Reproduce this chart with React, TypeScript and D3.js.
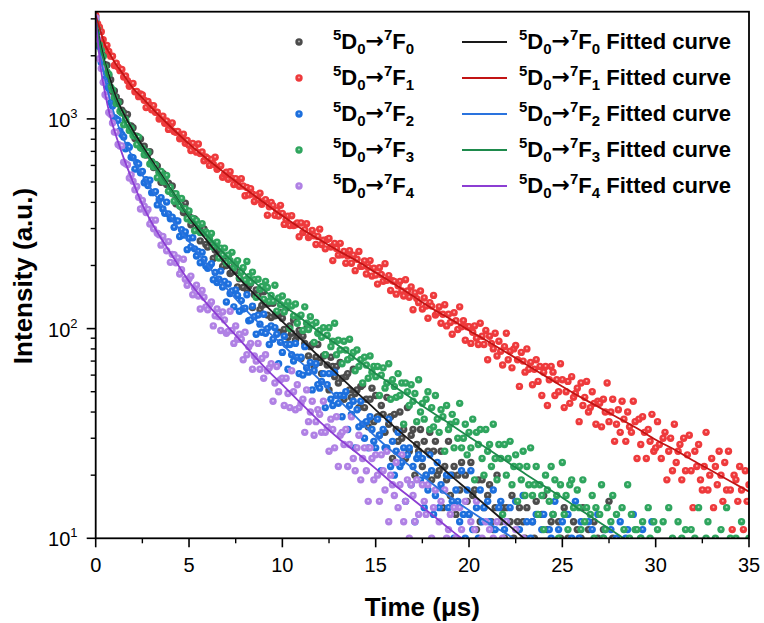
import React from "react";
import * as d3 from "d3";

// ---------------- data ----------------
const T_STEP = 0.1; // µs between recorded points
const X_MAX = 35;
const Y_MIN = 10;
const Y_MAX = 3245;

const COUNTS_F0 = [
  3060, 2659, 2336, 2208, 2009, 1811, 1803, 1617, 1537, 1352,
  1359, 1271, 1193, 1208, 1099, 1070, 986, 1050, 926, 926,
  907, 807, 826, 790, 803, 723, 741, 673, 682, 697,
  622, 586, 607, 597, 558, 499, 550, 517, 486, 493,
  450, 479, 437, 394, 420, 416, 379, 358, 396, 347,
  344, 313, 335, 333, 295, 299, 262, 289, 299, 252,
  245, 278, 253, 216, 237, 221, 240, 228, 198, 211,
  200, 223, 183, 186, 197, 188, 158, 173, 186, 157,
  170, 154, 159, 164, 126, 145, 153, 145, 123, 129,
  150, 131, 116, 132, 113, 132, 115, 116, 96, 119,
  112, 99, 125, 91, 103, 95, 110, 88, 92, 98,
  72, 92, 85, 100, 74, 82, 84, 66, 73, 84,
  69, 61, 74, 75, 67, 51, 73, 66, 59, 66,
  55, 69, 58, 46, 59, 61, 51, 47, 64, 49,
  51, 42, 53, 54, 42, 46, 34, 46, 52, 36,
  48, 38, 31, 43, 39, 32, 47, 35, 38, 24,
  39, 33, 29, 40, 30, 33, 24, 42, 26, 31,
  33, 20, 28, 26, 33, 22, 29, 20, 26, 32,
  19, 26, 29, 20, 21, 26, 14, 22, 19, 29,
  16, 20, 22, 13, 20, 17, 23, 9, 20, 15,
  13, 23, 16, 17, 11, 19, 12, 19, 14, 8,
  16, 18, 12, 11, 14, 20, 9, 12, 14, 10,
  14, 7, 12, 16, 10, 8, 12, 14, 5, 12,
  10, 14, 8, 7, 12, 10, 15, 9, 5, 13,
  16, 8, 11, 7, 12, 13, 9, 3, 12, 10,
  7, 14, 8, 10, 5, 9, 12, 7, 11, 4,
  10, 14, 7, 8, 11, 5, 9, 12, 6, 10,
  7, 4, 11, 9, 6, 15, 8, 10, 5, 9,
  9,
];

const COUNTS_F1 = [
  3122, 2845, 2735, 2606, 2385, 2212, 2243, 2099, 1992, 1989,
  1797, 1843, 1766, 1699, 1720, 1584, 1601, 1520, 1430, 1460,
  1475, 1348, 1352, 1277, 1314, 1300, 1227, 1132, 1210, 1161,
  1106, 1157, 1075, 1076, 999, 1020, 1031, 954, 978, 891,
  929, 957, 871, 863, 872, 804, 823, 845, 765, 789,
  749, 706, 764, 727, 694, 759, 683, 695, 632, 659,
  648, 600, 640, 608, 656, 575, 586, 598, 527, 545,
  557, 515, 560, 522, 486, 519, 491, 477, 519, 479,
  430, 471, 434, 465, 438, 404, 433, 412, 442, 392,
  404, 412, 347, 381, 400, 386, 347, 367, 344, 387,
  354, 314, 331, 344, 310, 345, 310, 313, 319, 274,
  319, 287, 296, 316, 272, 277, 294, 277, 252, 275,
  298, 252, 264, 240, 266, 269, 245, 211, 255, 241,
  224, 255, 225, 233, 205, 222, 235, 205, 224, 189,
  214, 233, 198, 199, 210, 182, 196, 211, 178, 194,
  180, 163, 195, 181, 168, 204, 170, 179, 152, 169,
  168, 146, 160, 168, 151, 143, 171, 151, 141, 158,
  123, 148, 139, 133, 151, 124, 140, 128, 112, 133,
  128, 144, 116, 119, 127, 106, 117, 130, 103, 117,
  107, 94, 119, 109, 99, 127, 102, 109, 88, 102,
  102, 85, 96, 103, 90, 84, 106, 92, 84, 98,
  71, 92, 85, 80, 95, 74, 87, 78, 67, 82,
  95, 71, 78, 65, 80, 83, 71, 53, 77, 70,
  62, 80, 64, 69, 54, 64, 71, 56, 66, 48,
  62, 66, 43, 57, 66, 62, 48, 57, 50, 68,
  57, 42, 50, 56, 44, 59, 47, 49, 52, 36,
  55, 43, 47, 56, 40, 42, 50, 44, 35, 45,
  44, 34, 46, 40, 55, 36, 40, 46, 29, 35,
  41, 32, 45, 37, 29, 40, 34, 32, 45, 36,
  24, 37, 28, 38, 32, 24, 33, 29, 39, 26,
  27, 36, 28, 24, 30, 32, 19, 26, 30, 21,
  35, 23, 26, 28, 19, 30, 21, 25, 31, 21,
  14, 26, 22, 28, 19, 17, 22, 32, 17, 20,
  24, 14, 22, 18, 26, 20, 15, 23, 17, 26,
  17, 11, 20, 19, 15, 22, 17, 11, 21, 15,
  18,
];

const COUNTS_F2 = [
  2967, 2621, 2214, 1859, 1743, 1542, 1434, 1395, 1196, 1152,
  1014, 1000, 985, 877, 842, 820, 720, 747, 733, 657,
  653, 576, 619, 609, 553, 561, 496, 513, 481, 510,
  445, 446, 450, 389, 412, 421, 372, 355, 401, 352,
  334, 340, 304, 326, 326, 275, 296, 279, 289, 238,
  270, 245, 271, 240, 222, 233, 206, 231, 214, 199,
  194, 198, 204, 171, 185, 166, 172, 188, 158, 168,
  134, 163, 147, 151, 127, 153, 144, 121, 136, 124,
  125, 145, 109, 110, 128, 114, 94, 116, 105, 96,
  117, 95, 100, 84, 103, 89, 101, 94, 68, 86,
  77, 92, 84, 64, 84, 75, 70, 85, 73, 61,
  73, 60, 82, 65, 62, 69, 51, 63, 68, 54,
  52, 56, 61, 42, 54, 61, 46, 43, 62, 48,
  44, 48, 38, 48, 50, 33, 43, 39, 45, 27,
  41, 34, 45, 35, 30, 36, 27, 38, 33, 29,
  27, 37, 31, 21, 33, 27, 27, 37, 22, 29,
  20, 26, 32, 22, 23, 27, 15, 25, 27, 18,
  22, 12, 24, 25, 19, 24, 14, 20, 17, 25,
  21, 13, 16, 23, 14, 18, 17, 9, 20, 14,
  20, 15, 10, 17, 15, 12, 21, 13, 10, 17,
  13, 21, 11, 9, 14, 10, 17, 12, 14, 7,
  15, 12, 9, 17, 11, 7, 14, 15, 4, 11,
  12, 9, 14, 9, 7, 15, 9, 11, 7, 16,
  8, 12, 5, 10, 12, 9, 13, 7, 9, 11,
  13, 8, 5, 11, 10, 7, 15, 9, 11, 4,
  12, 9, 7, 13, 8, 10, 6, 15, 7, 10,
  12, 4, 9, 8, 12, 6, 11, 6, 9, 13,
  7, 5, 10, 11, 8, 3, 11, 9, 7, 10,
  6, 12, 8, 4, 10, 11, 7, 6, 13, 7,
  9, 5, 10, 11, 6, 8, 3, 9, 12, 5,
  9,
];

const COUNTS_F3 = [
  2984, 2681, 2258, 2119, 1984, 1775, 1675, 1633, 1418, 1377,
  1270, 1183, 1198, 1087, 1068, 937, 994, 942, 880, 902,
  834, 828, 753, 819, 729, 723, 675, 696, 694, 609,
  625, 592, 603, 524, 557, 562, 504, 503, 537, 452,
  473, 441, 405, 440, 412, 384, 417, 372, 373, 334,
  364, 328, 335, 293, 327, 312, 287, 316, 286, 289,
  283, 267, 284, 245, 255, 258, 217, 242, 224, 242,
  206, 224, 211, 231, 195, 202, 211, 175, 186, 195,
  170, 209, 177, 166, 186, 171, 141, 172, 154, 159,
  138, 168, 157, 135, 144, 135, 161, 121, 140, 130,
  143, 120, 129, 134, 100, 128, 115, 131, 106, 114,
  116, 98, 127, 106, 99, 114, 104, 86, 107, 95,
  98, 91, 101, 75, 93, 101, 82, 87, 106, 75,
  88, 79, 68, 87, 79, 71, 89, 73, 77, 63,
  79, 66, 71, 55, 73, 67, 58, 74, 62, 66,
  59, 66, 48, 60, 65, 52, 55, 68, 46, 57,
  53, 47, 61, 48, 55, 35, 55, 50, 43, 54,
  45, 49, 36, 57, 40, 44, 37, 46, 50, 33,
  42, 34, 48, 37, 32, 41, 38, 26, 43, 33,
  35, 39, 27, 36, 30, 44, 27, 30, 35, 25,
  32, 27, 37, 19, 32, 28, 33, 24, 20, 33,
  26, 28, 22, 35, 24, 19, 28, 24, 13, 28,
  20, 24, 29, 18, 22, 25, 15, 22, 19, 26,
  16, 22, 18, 27, 16, 18, 22, 13, 18, 16,
  11, 20, 17, 15, 22, 13, 19, 16, 10, 18,
  23, 13, 16, 11, 18, 19, 14, 6, 17, 14,
  11, 19, 12, 14, 8, 13, 16, 10, 14, 7,
  13, 18, 10, 11, 14, 8, 12, 16, 8, 13,
  9, 6, 14, 11, 8, 18, 10, 13, 6, 11,
  11, 6, 10, 12, 8, 7, 14, 10, 8, 12,
  8, 11, 4, 9, 12, 7, 9, 14, 5, 10,
  9, 6, 12, 7, 10, 3, 11, 9, 6, 11,
  8, 10, 5, 14, 7, 8, 6, 10, 12, 5,
  9, 7, 10, 3, 9, 11, 6, 8, 14, 5,
  10, 7, 4, 10, 8, 6, 12, 7, 9, 5,
  10,
];

const COUNTS_F4 = [
  3038, 2405, 1936, 1741, 1494, 1304, 1278, 1073, 1051, 956,
  865, 863, 755, 742, 744, 622, 612, 604, 522, 541,
  504, 459, 476, 423, 372, 408, 383, 358, 370, 315,
  329, 299, 329, 285, 280, 250, 275, 259, 235, 260,
  207, 226, 225, 206, 217, 182, 191, 214, 172, 161,
  173, 178, 145, 156, 161, 143, 124, 152, 141, 127,
  123, 130, 134, 103, 115, 124, 114, 98, 120, 110,
  95, 97, 121, 98, 85, 103, 89, 94, 89, 71,
  96, 75, 82, 85, 64, 74, 70, 85, 64, 72,
  58, 75, 63, 65, 68, 45, 55, 66, 50, 57,
  58, 43, 58, 49, 42, 63, 50, 41, 54, 42,
  44, 46, 32, 51, 36, 40, 45, 31, 36, 41,
  39, 32, 45, 32, 34, 26, 37, 33, 27, 38,
  22, 31, 32, 28, 33, 22, 28, 38, 24, 21,
  27, 31, 19, 24, 27, 21, 15, 27, 24, 19,
  25, 20, 15, 25, 21, 17, 26, 12, 20, 18,
  16, 23, 14, 18, 25, 12, 15, 19, 10, 18,
  16, 12, 19, 13, 7, 18, 15, 13, 18, 9,
  10, 14, 17, 9, 12, 15, 7, 17, 10, 11,
  13, 7, 14, 10, 4, 14, 11, 8, 15, 8,
  9, 12, 6, 11, 15, 7, 8, 10, 5, 12,
  7, 11, 4, 10, 9, 12, 6, 7, 10, 4,
  12, 7, 6, 8, 5, 11, 7, 2, 9, 10,
  6,
];

// fitted curves, sampled at FIT_T (µs)
const FIT_T = [0, 0.25, 0.5, 0.75, 1, 1.5, 2, 2.5, 3, 4, 5, 6, 7, 8, 9, 10, 11, 12, 13, 14, 15,
  16, 17, 18, 19, 20, 21, 22, 23, 24, 25, 26, 27, 28, 29, 30, 31, 32, 33, 34, 35];
const FIT_F0 = [3000, 2290, 1850, 1570, 1330, 1060, 880, 745, 635, 465, 340, 260, 203, 162, 132, 108, 89, 73, 60, 49.5, 41,
  34, 28.5, 24, 20, 16.8, 14.1, 11.8, 9.9, 8.3, 7, 5.9, 5, 4.2, 3.5, 3, 2.5, 2.1, 1.8, 1.5, 1.3];
const FIT_F1 = [3100, 2640, 2250, 2050, 1870, 1620, 1400, 1258, 1130, 920, 760, 640, 545, 465, 400, 345, 300, 265, 235, 210, 185,
  163, 143, 125, 111, 98, 87, 77, 68, 60, 53, 47, 42, 37.5, 33.5, 29.5, 26.5, 23.5, 21, 18.7, 16.7];
const FIT_F2 = [3000, 2000, 1550, 1250, 1050, 800, 650, 540, 460, 340, 260, 200, 156, 124, 101, 84, 69, 57, 46, 37.5, 30.5,
  25.5, 21.5, 18.3, 15.7, 13.6, 11.9, 10.5, 9.3, 8.2, 7.3, 6.5, 5.8, 5.2, 4.6, 4.1, 3.7, 3.3, 3.0, 2.7, 2.4];
const FIT_F3 = [3000, 2200, 1800, 1480, 1270, 1000, 840, 720, 620, 460, 345, 275, 222, 183, 153, 130, 112, 96, 83, 71, 61,
  53, 46, 40, 35, 30.5, 26.7, 23.3, 20.3, 17.8, 15.6, 13.6, 11.9, 10.4, 9.1, 8.0, 7.0, 6.1, 5.4, 4.7, 4.1];
const FIT_F4 = [3000, 1800, 1330, 1050, 880, 650, 500, 390, 320, 230, 168, 130, 104, 83, 66, 54, 44, 36, 30, 25.5, 21.5,
  18, 15.3, 13, 11, 9.4, 8, 6.8, 5.8, 5, 4.3, 3.7, 3.2, 2.8, 2.4, 2.1, 1.8, 1.6, 1.4, 1.2, 1.0];

const TRANSITIONS = ["0", "1", "2", "3", "4"];
const X_TICKS = [0, 5, 10, 15, 20, 25, 30, 35];
const X_MINOR = [2.5, 7.5, 12.5, 17.5, 22.5, 27.5, 32.5];
const Y_TICKS = [10, 100, 1000];
const Y_TICK_EXP = ["1", "2", "3"];
const Y_MINOR = [20, 30, 40, 50, 60, 70, 80, 90, 200, 300, 400, 500, 600, 700, 800, 900, 2000, 3000];

// ---------------- styling ----------------
const DOT_COLORS = ["#4c4c4c", "#ee3a3c", "#1c6fdd", "#2fa55e", "#b081e4"];
const DOT_LIGHT = ["#d8d8d8", "#ffd6d6", "#d4e4ff", "#d8f2e2", "#f0e6ff"];
const LINE_COLORS = ["#1a1a1a", "#c21414", "#2a73de", "#1e8a4c", "#8c3ed3"];
const FONT = "'Liberation Sans', Arial, Helvetica, sans-serif";

const W = 764;
const H = 623;
const PL = 95.7;
const PR = 749;
const PT = 11.7;
const PB = 538.3;

export default function App() {
  const x = d3.scaleLinear().domain([0, X_MAX]).range([PL, PR]);
  const y = d3.scaleLog().domain([Y_MIN, Y_MAX]).range([PB, PT]);

  const series = [COUNTS_F0, COUNTS_F1, COUNTS_F2, COUNTS_F3, COUNTS_F4];
  const fits = [FIT_F0, FIT_F1, FIT_F2, FIT_F3, FIT_F4];

  const lineGen = d3
    .line<number>()
    .x((_, i) => x(FIT_T[i]))
    .y((v) => y(v))
    .curve(d3.curveMonotoneX);

  const R = 3.7;
  const legendY0 = 42;
  const legendDY = 36;

  const label = (k: number, fitted: boolean) => [
    <tspan key="a" fontSize={15} dy={-9}>5</tspan>,
    <tspan key="b" fontSize={22} dy={9}>D</tspan>,
    <tspan key="c" fontSize={15} dy={5}>0</tspan>,
    <tspan key="d" fontSize={22} dy={-6} fontFamily="'DejaVu Sans', sans-serif">→</tspan>,
    <tspan key="e" fontSize={15} dy={-8}>7</tspan>,
    <tspan key="f" fontSize={22} dy={9}>F</tspan>,
    <tspan key="g" fontSize={15} dy={5}>{TRANSITIONS[k]}</tspan>,
    ...(fitted ? [<tspan key="h" fontSize={22} dy={-5}>{" Fitted curve"}</tspan>] : []),
  ];

  const ball = (cx: number, cy: number, k: number, key?: number) => (
    <g key={key}>
      <circle cx={cx} cy={cy} r={R} fill={DOT_COLORS[k]} />
      <circle cx={cx} cy={cy} r={R} fill={`url(#ball${k})`} />
    </g>
  );

  return (
    <svg
      width={W}
      height={H}
      style={{ position: "absolute", left: 0, top: 0, background: "#fff" }}
      fontFamily={FONT}
    >
      <defs>
        <clipPath id="plotClip">
          <rect x={PL} y={PT} width={PR - PL} height={PB - PT} />
        </clipPath>
        {DOT_COLORS.map((c, k) => (
          <radialGradient key={k} id={`ball${k}`} cx="0.5" cy="0.5" r="0.5" fx="0.5" fy="0.4">
            <stop offset="0%" stopColor={DOT_LIGHT[k]} stopOpacity={0.95} />
            <stop offset="22%" stopColor={DOT_LIGHT[k]} stopOpacity={0.45} />
            <stop offset="45%" stopColor={c} stopOpacity={0} />
            <stop offset="100%" stopColor={c} stopOpacity={0} />
          </radialGradient>
        ))}
      </defs>

      <rect x={0} y={0} width={W} height={H} fill="#fff" />

      {/* data points */}
      <g clipPath="url(#plotClip)">
        {series.map((arr, k) => (
          <g key={k}>{arr.map((v, i) => (v >= 8 ? ball(x(i * T_STEP), y(v), k, i) : null))}</g>
        ))}
        {/* fitted curves */}
        {fits.map((f, k) => (
          <path key={k} d={lineGen(f) || ""} fill="none" stroke={LINE_COLORS[k]} strokeWidth={1.8} />
        ))}
      </g>

      {/* frame */}
      <rect x={PL} y={PT} width={PR - PL} height={PB - PT} fill="none" stroke="#000" strokeWidth={1.8} />

      {/* x axis ticks */}
      {X_TICKS.map((t) => (
        <g key={`xt${t}`}>
          <line x1={x(t)} x2={x(t)} y1={PB} y2={PB + 9} stroke="#000" strokeWidth={1.6} />
          <text x={x(t)} y={PB + 34} textAnchor="middle" fontSize={20} fill="#000">
            {t}
          </text>
        </g>
      ))}
      {X_MINOR.map((t) => (
        <line key={`xm${t}`} x1={x(t)} x2={x(t)} y1={PB} y2={PB + 5} stroke="#000" strokeWidth={1.4} />
      ))}

      {/* y axis ticks */}
      {Y_TICKS.map((v, i) => (
        <g key={`yt${v}`}>
          <line x1={PL - 9} x2={PL} y1={y(v)} y2={y(v)} stroke="#000" strokeWidth={1.6} />
          <text x={77.5} y={y(v) + 8} textAnchor="end" fontSize={20} fill="#000">
            <tspan>10</tspan>
            <tspan fontSize={13} dy={-9}>{Y_TICK_EXP[i]}</tspan>
          </text>
        </g>
      ))}
      {Y_MINOR.map((v) => (
        <line key={`ym${v}`} x1={PL - 5} x2={PL} y1={y(v)} y2={y(v)} stroke="#000" strokeWidth={1.4} />
      ))}

      {/* axis titles */}
      <text x={(PL + PR) / 2} y={616} textAnchor="middle" fontSize={26} fontWeight="bold" fill="#000">
        Time (μs)
      </text>
      <text
        transform={`translate(32, 276) rotate(-90)`}
        textAnchor="middle"
        fontSize={26}
        fontWeight="bold"
        fill="#000"
      >
        Intensity (a.u.)
      </text>

      {/* legend */}
      {TRANSITIONS.map((_, k) => {
        const cy = legendY0 + k * legendDY;
        return (
          <g key={`lg${k}`}>
            {ball(299, cy, k)}
            <text x={333} y={cy + 7} fontWeight="bold" fill="#000">
              {label(k, false)}
            </text>
            <line x1={462} x2={507} y1={cy} y2={cy} stroke={LINE_COLORS[k]} strokeWidth={2} />
            <text x={519} y={cy + 7} fontWeight="bold" fill="#000">
              {label(k, true)}
            </text>
          </g>
        );
      })}
    </svg>
  );
}
